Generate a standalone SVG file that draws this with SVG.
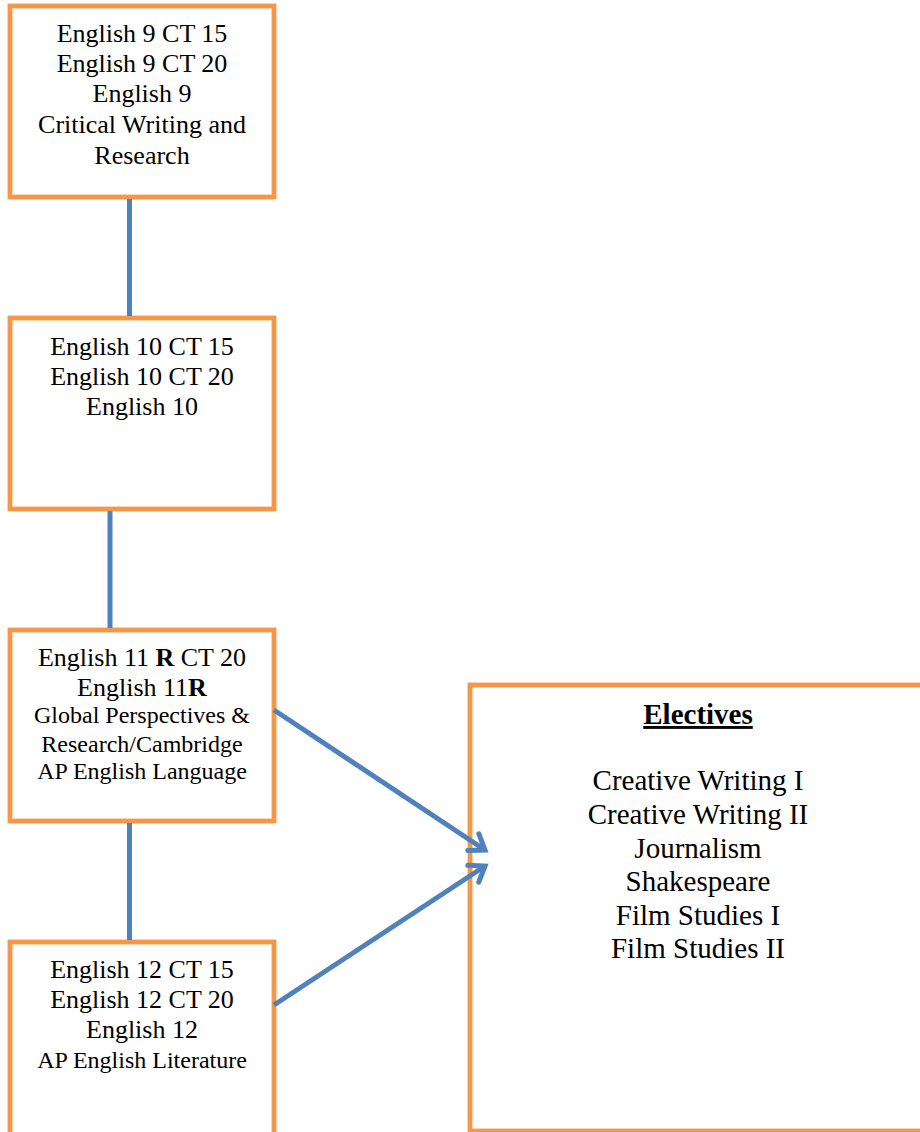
<svg xmlns="http://www.w3.org/2000/svg" width="920" height="1132" viewBox="0 0 920 1132">
<defs>
<style>
.box{fill:#FFFFFF;stroke:#F79646;stroke-width:4.8}
.conn{stroke:#4F81BD;stroke-width:5;fill:none}
.t{font-family:"Liberation Serif","Times New Roman",serif;font-size:26px;fill:#000;text-anchor:middle}
.s{font-size:24px}
.e{font-size:29px}
</style>
<marker id="arr" markerUnits="userSpaceOnUse" markerWidth="40" markerHeight="40" viewBox="-20 -20 40 40" refX="0" refY="0" orient="auto">
<path d="M-14,-10 L0,0 L-14,10" fill="none" stroke="#4F81BD" stroke-width="5" stroke-linejoin="miter" stroke-linecap="round"/>
</marker>
</defs>
<rect width="920" height="1132" fill="#FFFFFF"/>
<g id="node-english9">
<rect class="box" x="10" y="6" width="264" height="191"/>
<text class="t" x="142" y="42">English 9 CT 15</text>
<text class="t" x="142" y="72">English 9 CT 20</text>
<text class="t" x="142" y="102">English 9</text>
<text class="t" x="142" y="133">Critical Writing and</text>
<text class="t" x="142" y="164">Research</text>
</g>
<g id="node-english10">
<rect class="box" x="10" y="318" width="264" height="191"/>
<text class="t" x="142" y="355">English 10 CT 15</text>
<text class="t" x="142" y="385">English 10 CT 20</text>
<text class="t" x="142" y="415">English 10</text>
</g>
<g id="node-english11">
<rect class="box" x="10" y="630" width="264" height="191"/>
<text class="t" x="142" y="666">English 11 <tspan font-weight="bold">R</tspan> CT 20</text>
<text class="t" x="142" y="696">English 11<tspan font-weight="bold">R</tspan></text>
<text class="t s" x="142" y="723">Global Perspectives &amp;</text>
<text class="t s" x="142" y="752">Research/Cambridge</text>
<text class="t s" x="142" y="779">AP English Language</text>
</g>
<g id="node-english12">
<rect class="box" x="10" y="942" width="264" height="210"/>
<text class="t" x="142" y="978">English 12 CT 15</text>
<text class="t" x="142" y="1008">English 12 CT 20</text>
<text class="t" x="142" y="1038">English 12</text>
<text class="t s" x="142" y="1068">AP English Literature</text>
</g>
<g id="node-electives">
<rect class="box" x="470" y="685" width="470" height="446"/>
<text class="t e" x="698" y="724" font-weight="bold" text-decoration="underline">Electives</text>
<text class="t e" x="698" y="790">Creative Writing I</text>
<text class="t e" x="698" y="824">Creative Writing II</text>
<text class="t e" x="698" y="858">Journalism</text>
<text class="t e" x="698" y="891">Shakespeare</text>
<text class="t e" x="698" y="925">Film Studies I</text>
<text class="t e" x="698" y="958">Film Studies II</text>
</g>
<g id="connectors">
<line class="conn" x1="129.5" y1="199" x2="129.5" y2="316"/>
<line class="conn" x1="110" y1="511" x2="110" y2="628"/>
<line class="conn" x1="129.5" y1="823" x2="129.5" y2="940"/>
<line class="conn" x1="274" y1="710" x2="485" y2="850" marker-end="url(#arr)"/>
<line class="conn" x1="274" y1="1005" x2="485" y2="866" marker-end="url(#arr)"/>
</g>
</svg>
